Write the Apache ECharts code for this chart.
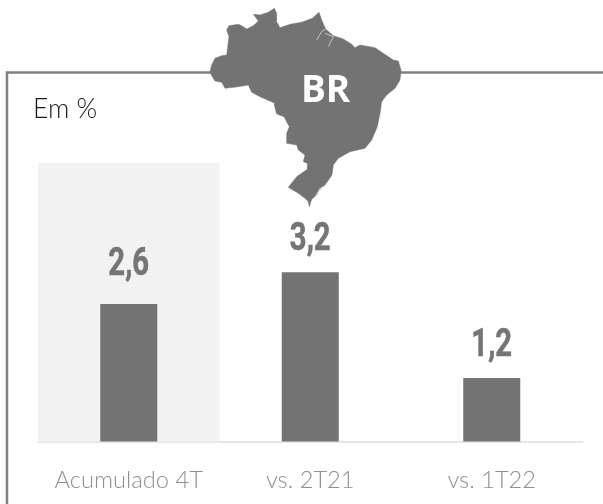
<!DOCTYPE html>
<html><head><meta charset="utf-8">
<style>html,body{margin:0;padding:0;background:#fff}#c{width:603px;height:504px}</style>
<script src="https://cdn.jsdelivr.net/npm/echarts@6/dist/echarts.min.js"></script>
</head><body><div id="c"></div>
<script>
const categories = ['Acumulado 4T', 'vs. 2T21', 'vs. 1T22'];
const values = [2.6, 3.2, 1.2];
const valueLabels = ['2,6', '3,2', '1,2'];
const labelLift = [19, 12, 12];
const highlightCategory = 'Acumulado 4T';
const axisMax = 5.265;

// Decorative outline of Brazil, traced in three zoomed crops of the picture
const crop = (ox, oy, pts) => pts.map(p => [ox + p[0] / 3, oy + p[1] / 3]);
const west = crop(205, 5, [[15,200],[20,180],[30,160],[50,152],[65,150],[70,110],[72,95],[65,75],[72,62],[100,58],[110,62],[125,72],[145,62],[160,48],[145,28],[165,30],[190,22],[208,10],[215,25],[215,50],[225,68],[255,58],[290,52]]);
const north = crop(305, 5, [[22,40],[42,22],[50,45],[62,72],[85,92],[115,102],[140,118],[150,128],[165,120],[210,128],[235,145],[265,165],[280,168],[288,195],[285,225],[270,250],[245,270],[230,290]]);
const south = crop(270, 100, [[330,40],[322,80],[305,120],[285,145],[240,155],[205,175],[190,195],[186,225],[165,255],[150,265],[140,285],[125,298],[118,320],[115,305],[105,295],[85,280],[55,262],[80,230],[112,208],[112,190],[100,185],[105,165],[85,150],[80,135],[50,130],[50,100],[58,80],[42,50],[20,42],[12,12]]);
const southWest = crop(205, 5, [[210,295],[165,275],[140,262],[130,240],[100,245],[60,250],[50,232],[30,228],[20,212]]);
const brazil = [...west, ...north, ...south, ...southWest];
const slit1 = crop(305, 5, [[35,105],[50,80],[62,72]]);
const slit2 = crop(305, 5, [[60,85],[85,95],[70,125]]);
const lagoon = crop(270, 100, [[135,290],[150,265],[155,270]]);

const chart = echarts.init(document.getElementById('c'), null, {renderer: 'canvas'});
const GRAY = '#737373';
const lineStyle = {stroke: '#c4c4c4', lineWidth: 1, fill: null};
chart.setOption({
  animation: false,
  grid: {left: 38, right: 20.5, top: 163, bottom: 62.5},
  xAxis: [
    {
      type: 'category', data: categories,
      axisLine: {lineStyle: {color: '#e6e6e6', width: 2}},
      axisTick: {show: false},
      axisLabel: {interval: 0, color: '#8f8f8f', fontFamily: 'Lato', fontWeight: 300, fontSize: 23.7, margin: 27}
    },
    {type: 'category', data: categories, show: false}
  ],
  yAxis: {type: 'value', min: 0, max: axisMax, show: false, splitLine: {show: false}},
  series: [
    {
      type: 'bar', xAxisIndex: 1, barWidth: '100%', silent: true, z: 1,
      itemStyle: {color: '#f2f2f2'},
      data: categories.map(c => c === highlightCategory ? axisMax : null)
    },
    {
      type: 'bar', barWidth: 57, z: 2,
      itemStyle: {color: GRAY},
      data: values
    },
    {
      type: 'custom', z: 3, silent: true,
      data: values.map((v, i) => [i, v]),
      encode: {x: 0, y: 1},
      renderItem: (params, api) => {
        const p = api.coord([api.value(0), api.value(1)]);
        return {
          type: 'text', x: p[0], y: p[1] - labelLift[params.dataIndex], scaleX: 0.75,
          style: {text: valueLabels[params.dataIndex], fill: '#757575', stroke: '#757575', lineWidth: 0.6,
            font: 'bold 39px Roboto', align: 'center', verticalAlign: 'bottom'}
        };
      }
    }
  ],
  graphic: [
    {type: 'polyline', z: 10, silent: true, shape: {points: [[7,504],[7,72.5],[603,72.5]]},
      style: {stroke: '#7f7f7f', lineWidth: 2.5, fill: null}},
    {type: 'polygon', z: 11, silent: true, shape: {points: brazil}, style: {fill: GRAY, stroke: GRAY, lineWidth: 0.5}},
    {type: 'polyline', z: 12, silent: true, shape: {points: slit1}, style: lineStyle},
    {type: 'polyline', z: 12, silent: true, shape: {points: slit2}, style: lineStyle},
    {type: 'polyline', z: 12, silent: true, shape: {points: lagoon}, style: lineStyle},
    {type: 'text', z: 13, silent: true, left: 301, top: 73,
      style: {text: 'BR', fill: '#fff', font: 'bold 37px "Open Sans"'}},
    {type: 'text', z: 13, silent: true, left: 33, top: 96,
      style: {text: 'Em %', fill: '#1a1a1a', font: '300 26.5px Lato'}}
  ]
});
</script></body></html>
